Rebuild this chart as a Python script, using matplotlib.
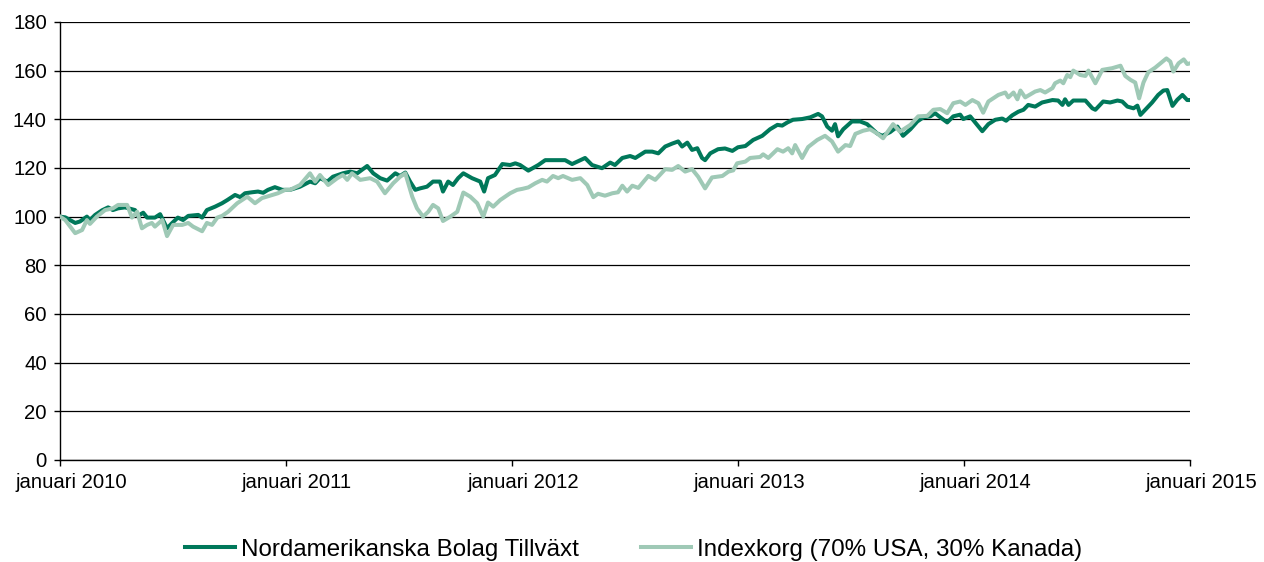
import pandas as pd
import matplotlib
matplotlib.use("Agg")
import matplotlib.pyplot as plt
from matplotlib.transforms import ScaledTranslation

# weeks since start of 2010 and index value
fund_weeks = [0, 1.2, 3.5, 4.6, 6.2, 6.9, 8.1, 9.7, 11.1, 12.2, 13.4, 15.0, 17.3, 18.0, 19.2, 20.1,
              21.9, 23.1, 24.7, 25.9, 27.2, 28.4, 29.6, 31.9, 32.8, 33.9, 35.8, 37.4, 38.6, 40.4,
              41.6, 42.7, 44.3, 45.7, 46.9, 48.0, 49.6, 51.3, 53.1, 55.4, 57.7, 58.9, 60.0, 61.7,
              63.0, 65.3, 67.0, 68.6, 70.9, 72.3, 73.9, 75.5, 77.4, 78.5, 79.7, 80.8, 82.0, 83.1,
              84.7, 86.1, 87.7, 88.4, 89.6, 90.7, 91.9, 93.1, 95.1, 97.0, 97.9, 98.8, 100.4, 102.1,
              103.9, 105.1, 106.2, 108.1, 110.4, 112.0, 116.6, 118.2, 121.2, 122.8, 125.1, 127.0,
              128.1, 129.8, 131.6, 132.8, 135.1, 136.7, 138.1, 139.7, 141.3, 142.7, 143.6, 144.8,
              145.9, 147.1, 148.2, 148.9, 150.1, 151.9, 153.5, 155.2, 156.5, 158.2, 160.0, 162.1,
              163.9, 165.6, 166.7, 167.9, 169.2, 171.3, 173.2, 175.0, 175.9, 177.1, 178.2, 178.9,
              179.6, 180.8, 182.8, 184.7, 186.3, 188.6, 189.8, 191.6, 193.3, 194.6, 196.3, 197.9,
              199.3, 200.9, 202.0, 203.2, 204.8, 206.2, 207.8, 208.5, 210.1, 212.9, 214.3, 215.9,
              217.5, 218.4, 219.8, 221.2, 222.4, 223.5, 225.1, 226.7, 229.1, 230.4, 231.4, 232.0,
              232.8, 233.9, 236.7, 238.3, 239.0, 240.8, 242.4, 244.1, 245.2, 246.4, 247.8, 248.7,
              249.4, 250.5, 252.1, 253.5, 254.7, 255.6, 256.8, 257.9, 259.1, 260.2, 260.9]
fund_values = [100, 99.7, 97.4, 98, 100, 98.6, 100.7, 102.6, 103.8, 102.7, 103.4, 103.8, 102.7, 100.3,
               101.6, 99.6, 99.6, 101, 95.2, 97.4, 99.6, 98.6, 100.3, 100.7, 99.6, 102.7, 104.1, 105.5,
               106.8, 108.9, 108, 109.6, 110, 110.3, 109.8, 111, 112.1, 111, 111, 112.3, 114.4, 113.7,
               115.8, 114.4, 116.4, 117.8, 118.5, 117.8, 120.8, 117.8, 115.8, 114.8, 117.8, 116.7,
               118.1, 114.4, 111, 111.6, 112.3, 114.4, 114.4, 110.3, 114.4, 113, 115.8, 117.8, 115.8,
               114.4, 110.3, 115.8, 117.1, 121.6, 121.2, 121.9, 121.2, 118.9, 121.2, 123.2, 123.2,
               121.6, 124.1, 121.2, 119.9, 122.2, 121.2, 124.1, 124.9, 124.1, 126.7, 126.7, 126,
               128.8, 130, 130.9, 128.8, 130.4, 127.4, 128.1, 124.1, 123.2, 126, 127.7, 128, 127,
               128.5, 129, 131.5, 133.2, 135.9, 137.7, 137.4, 138.7, 139.8, 140.1, 140.8, 142.2,
               141.2, 137, 135.3, 138, 133, 135.9, 139.1, 139.1, 138, 134.2, 133.2, 134.7, 137,
               133.2, 135.9, 139.1, 140.8, 141.2, 142.5, 140.8, 138.7, 141.2, 141.9, 140.1, 141.2,
               135.1, 138, 139.8, 140.3, 139.4, 141.6, 143.1, 143.9, 145.9, 145.2, 146.9, 147.9,
               147.7, 145.9, 148.2, 145.9, 147.7, 147.7, 144.5, 143.9, 147.3, 146.9, 147.7, 147.3,
               145.2, 144.5, 145.6, 141.8, 143.9, 146.9, 150, 151.8, 152, 145.5, 148, 150, 147.9,
               147.9]

index_weeks = [0, 1.2, 3.5, 5.1, 6.2, 6.9, 8.5, 10.4, 12.2, 13.4, 15.5, 16.6, 17.8, 18.9, 20.1, 21.2,
               21.9, 23.6, 24.7, 26.1, 28.2, 29.6, 30.7, 32.8, 33.9, 35.1, 36.3, 37.4, 38.8, 40.9,
               42.0, 43.2, 45.0, 46.6, 49.0, 50.3, 52.0, 53.1, 55.4, 57.7, 58.9, 60.0, 61.9, 64.0,
               65.3, 66.3, 67.4, 69.3, 71.6, 73.2, 75.0, 76.9, 78.5, 79.7, 81.3, 82.4, 83.8, 85.0,
               86.1, 87.3, 88.4, 90.1, 91.7, 93.1, 94.7, 96.3, 97.7, 98.8, 100.0, 101.6, 103.9,
               105.5, 106.7, 108.1, 109.7, 111.3, 112.4, 113.8, 115.0, 116.1, 118.2, 120.1, 121.7,
               123.1, 124.2, 125.8, 127.5, 128.8, 129.8, 130.9, 132.1, 133.5, 135.8, 137.4, 139.7,
               141.3, 142.7, 144.3, 145.9, 147.3, 148.9, 150.5, 152.9, 154.3, 155.4, 156.3, 158.2,
               159.3, 161.6, 162.3, 163.5, 165.6, 166.9, 168.1, 169.0, 169.7, 171.3, 172.7, 174.8,
               176.6, 178.2, 179.6, 181.3, 182.4, 183.6, 185.4, 187.0, 188.6, 190.0, 192.3, 193.9,
               196.3, 198.1, 200.2, 201.6, 203.2, 204.8, 206.2, 207.8, 209.0, 210.6, 212.0, 213.1,
               214.3, 216.6, 218.2, 218.9, 220.1, 221.0, 221.7, 222.8, 225.1, 226.3, 227.4, 229.1,
               229.7, 230.9, 231.6, 232.5, 233.2, 233.9, 235.5, 236.7, 237.4, 239.0, 240.6, 242.9,
               244.8, 245.9, 247.1, 248.2, 249.1, 250.1, 251.2, 252.8, 254.5, 255.4, 256.3, 257.0,
               258.2, 259.4, 260.2, 260.9]
index_values = [100, 98.6, 93.2, 94.5, 98.6, 97, 100, 102.7, 103.4, 104.8, 104.8, 99.6, 102, 95.2,
                96.6, 97.4, 95.9, 98.6, 92, 96.6, 96.6, 97.4, 95.9, 94, 97.4, 96.6, 99.6, 100.3, 102,
                105.5, 106.8, 108.2, 105.5, 107.6, 108.9, 109.6, 111, 111, 113, 117.8, 114.4, 117.1,
                113, 115.8, 117.1, 115.1, 117.8, 115.1, 115.8, 114.4, 109.6, 113.7, 116.4, 117.8,
                108.2, 103.4, 100, 102, 104.8, 103.4, 98.2, 100, 102, 109.9, 108.2, 105.5, 100, 105.8,
                104.1, 106.8, 109.6, 111, 111.4, 112, 113.7, 115.1, 114.4, 116.7, 115.8, 116.7, 115.1,
                115.8, 113, 108, 109.4, 108.6, 109.6, 110, 112.7, 110.3, 112.7, 111.8, 116.7, 115.1,
                119.5, 119.2, 120.8, 118.5, 119.5, 116.4, 111.6, 116.1, 116.7, 118.5, 119, 121.9,
                122.6, 124.1, 124.5, 125.6, 124.1, 127.7, 126.7, 128.1, 126, 129.4, 124.1, 128.6,
                131.5, 133.2, 130.9, 126.7, 129.4, 129, 134, 135.3, 135.9, 134.2, 132.2, 138, 134.9,
                137.7, 141.2, 141.4, 143.9, 144.2, 142.5, 146.6, 147.3, 145.9, 147.9, 146.6, 142.7,
                147.3, 150, 151, 149, 151, 148.2, 151.8, 149, 151.4, 152, 151, 152.8, 154.8, 155.9,
                154.8, 158.2, 157.3, 160, 158.2, 157.8, 160, 154.8, 160.3, 161, 162, 157.8, 156.2,
                155.1, 148.6, 155.1, 159.3, 161.2, 163.7, 165, 163.7, 159.6, 163, 164.6, 162.7, 163]

labels = ["Nordamerikanska Bolag Tillväxt", "Indexkorg (70% USA, 30% Kanada)"]
years = [2010, 2011, 2012, 2013, 2014, 2015]

start = pd.Timestamp("2010-01-01")
fund_dates = start + pd.to_timedelta([w * 7 for w in fund_weeks], unit="D")
index_dates = start + pd.to_timedelta([w * 7 for w in index_weeks], unit="D")

plt.rcParams["font.family"] = ["Liberation Sans", "DejaVu Sans"]

fig = plt.figure(figsize=(12.64, 5.62), dpi=100)
ax = fig.add_axes([0.0475, 0.1815, 0.894, 0.7795])

ax.plot(fund_dates, fund_values, color="#00785a", lw=2.9, label=labels[0], zorder=3)
ax.plot(index_dates, index_values, color="#9fc9b6", lw=2.9, label=labels[1], zorder=3)

ax.set_ylim(0, 180)
ax.set_yticks(range(0, 181, 20))
ax.set_xlim(pd.Timestamp("2010-01-01"), pd.Timestamp("2015-01-01"))
ticks = [pd.Timestamp(f"{y}-01-01") for y in years]
ax.set_xticks(ticks)
ax.set_xticklabels([f"januari {y}" for y in years])

ax.grid(axis="y", color="black", lw=0.9, zorder=1)
ax.set_axisbelow(True)
for s in ["top", "right"]:
    ax.spines[s].set_visible(False)
ax.spines["left"].set_linewidth(1.0)
ax.spines["bottom"].set_linewidth(1.0)
ax.tick_params(axis="both", labelsize=14.6, length=4.5, width=1, colors="black")
ax.tick_params(axis="x", pad=5)
ax.tick_params(axis="y", pad=5)

# x labels sit a little right of their ticks in the original
shift = ScaledTranslation(11 / 100, 0, fig.dpi_scale_trans)
for lbl in ax.get_xticklabels():
    lbl.set_transform(lbl.get_transform() + shift)

leg = ax.legend(loc="center", bbox_to_anchor=(0.5075, -0.205), ncol=2, frameon=False,
                fontsize=17.4, handlelength=2.07, columnspacing=2.57, handletextpad=0.25)

fig.savefig("out.png", dpi=100)
